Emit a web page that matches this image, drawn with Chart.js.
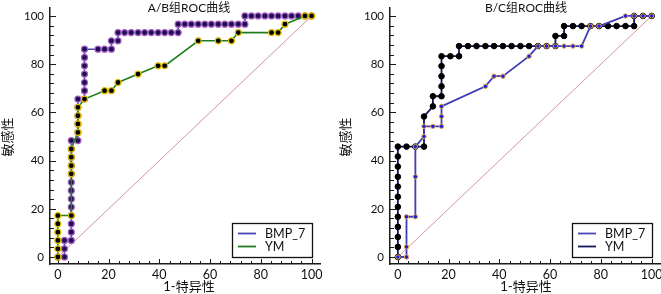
<!DOCTYPE html>
<html>
<head>
<meta charset="utf-8">
<script src="https://cdn.jsdelivr.net/npm/chart.js@4.4.1/dist/chart.umd.min.js"></script>
<style>
html, body { margin: 0; padding: 0; background: #fff; overflow: hidden; width: 661px; height: 294px; }
canvas { position: absolute; top: 0; }
#abChart { left: 0; }
#bcChart { left: 330px; }
</style>
</head>
<body>
<canvas id="abChart" width="330" height="294"></canvas>
<canvas id="bcChart" width="340" height="294"></canvas>
<script>
// axis ticks (percent)
const majorTicks = [0, 20, 40, 60, 80, 100];
const minorTicks = [4, 8, 12, 16, 24, 28, 32, 36, 44, 48, 52, 56, 64, 68, 72, 76, 84, 88, 92, 96];
const diagX = [0, 100];
const diagY = [0, 100];

// A/B group, [1-specificity, sensitivity]
const abBmp7 = [[0,0],[2.6,0],[2.6,3.4],[2.6,6.9],[5.3,6.9],[5.3,10.3],[5.3,13.8],[5.3,17.2],[5.3,20.7],
  [5.3,24.1],[5.3,27.6],[5.3,31.0],[5.3,34.5],[5.3,37.9],[5.3,41.4],[5.3,44.8],[5.3,48.3],[7.9,48.3],
  [7.9,51.7],[7.9,55.2],[7.9,58.6],[7.9,62.1],[7.9,65.5],[10.5,65.5],[10.5,69.0],[10.5,72.4],[10.5,75.9],
  [10.5,79.3],[10.5,82.8],[10.5,86.2],[15.8,86.2],[18.4,86.2],[21.1,86.2],[21.1,89.7],[23.7,89.7],[23.7,93.1],
  [26.3,93.1],[28.9,93.1],[31.6,93.1],[34.2,93.1],[36.8,93.1],[39.5,93.1],[42.1,93.1],[44.7,93.1],[47.4,93.1],
  [47.4,96.6],[50.0,96.6],[52.6,96.6],[55.3,96.6],[57.9,96.6],[60.5,96.6],[63.2,96.6],[65.8,96.6],[68.4,96.6],
  [71.1,96.6],[73.7,96.6],[73.7,100],[76.3,100],[78.9,100],[81.6,100],[84.2,100],[86.8,100],[89.5,100],
  [92.1,100],[94.7,100],[97.4,100],[100,100]];
const abYm = [[0,0],[0,3.4],[0,6.9],[0,10.3],[0,13.8],[0,17.2],[5.3,17.2],[5.3,34.5],[5.3,37.9],[5.3,41.4],
  [5.3,44.8],[7.9,51.7],[7.9,55.2],[7.9,58.6],[7.9,62.1],[10.5,65.5],[18.4,69.0],[21.1,69.0],[23.7,72.4],
  [31.6,75.9],[39.5,79.3],[42.1,79.3],[55.3,89.7],[63.2,89.7],[68.4,89.7],[71.1,93.1],[84.2,93.1],[86.8,93.1],
  [89.5,96.6],[97.4,100],[100,100]];

// B/C group
const bcBmp7 = [[0,0],[3.4,0],[3.4,4.2],[3.4,16.7],[6.9,16.7],[6.9,33.3],[6.9,45.8],[10.3,50.0],[10.3,54.2],
  [13.8,54.2],[17.2,54.2],[17.2,58.3],[17.2,62.5],[34.5,70.8],[37.9,75.0],[41.4,75.0],[51.7,83.3],[55.2,87.5],
  [58.6,87.5],[62.1,87.5],[65.5,87.5],[69.0,87.5],[72.4,87.5],[75.9,95.8],[79.3,95.8],[89.7,100],[93.1,100],
  [96.6,100],[100,100]];
const bcYm = [[0,0],[0,4.2],[0,8.3],[0,12.5],[0,16.7],[0,20.8],[0,25.0],[0,29.2],[0,33.3],[0,37.5],[0,41.7],
  [0,45.8],[3.4,45.8],[6.9,45.8],[10.3,45.8],[10.3,58.3],[13.8,62.5],[13.8,66.7],[17.2,66.7],[17.2,70.8],
  [17.2,75.0],[17.2,79.2],[17.2,83.3],[20.7,83.3],[24.1,83.3],[24.1,87.5],[27.6,87.5],[31.0,87.5],[34.5,87.5],
  [37.9,87.5],[41.4,87.5],[44.8,87.5],[48.3,87.5],[51.7,87.5],[55.2,87.5],[58.6,87.5],[62.1,87.5],[62.1,91.7],
  [65.5,91.7],[65.5,95.8],[69.0,95.8],[72.4,95.8],[75.9,95.8],[79.3,95.8],[82.8,95.8],[86.2,95.8],[89.7,95.8],
  [93.1,95.8],[93.1,100],[96.6,100],[100,100]];

const FONT = 'Lato, "Noto Sans CJK SC", sans-serif';
const toXY = arr => arr.map(p => ({ x: p[0], y: p[1] }));
const diagData = () => diagX.map((v, i) => ({ x: v, y: diagY[i] }));

const rocDecor = {
    id: 'rocDecor',
    beforeDatasetsDraw(chart) {
        const { ctx, chartArea: a, scales: { x, y } } = chart;
        ctx.save();
        ctx.strokeStyle = '#1a1a1a';
        ctx.lineWidth = 1;
        ctx.beginPath();
        for (const v of majorTicks.concat(minorTicks)) {
            const len = majorTicks.includes(v) ? 5 : 3;
            const px = Math.round(x.getPixelForValue(v)) + 0.5;
            ctx.moveTo(px, a.bottom);
            ctx.lineTo(px, a.bottom - len);
            const py = Math.round(y.getPixelForValue(v)) + 0.5;
            ctx.moveTo(a.left, py);
            ctx.lineTo(a.left + len + 1, py);
        }
        ctx.stroke();
        ctx.restore();
    },
    afterDraw(chart, args, o) {
        const { ctx, scales: { x, y } } = chart;
        ctx.save();
        ctx.fillStyle = '#111';
        ctx.textAlign = 'center';
        ctx.textBaseline = 'middle';
        ctx.font = '12px ' + FONT;
        ctx.fillText(o.title, o.titleX, 8);
        ctx.font = '13px ' + FONT;
        ctx.fillText('1-特异性', o.titleX, 287);
        ctx.save();
        ctx.translate(o.yTitleX, 137);
        ctx.rotate(-Math.PI / 2);
        ctx.fillText('敏感性', 0, 0);
        ctx.restore();

        // legend box anchored at (100, 0)
        const right = Math.round(x.getPixelForValue(100));
        const bottom = Math.round(y.getPixelForValue(0));
        const left = right - 80, top = bottom - 34;
        ctx.fillStyle = '#fff';
        ctx.fillRect(left, top, 80, 34);
        ctx.strokeStyle = '#111';
        ctx.lineWidth = 1.3;
        ctx.strokeRect(left + 0.5, top + 0.5, 80, 34);
        ctx.textAlign = 'left';
        ctx.font = '12.5px ' + FONT;
        o.items.forEach((it, i) => {
            const ly = top + 10.5 + i * 13;
            ctx.strokeStyle = it.color;
            ctx.lineWidth = 1.8;
            ctx.beginPath();
            ctx.moveTo(left + 6, ly);
            ctx.lineTo(left + 24, ly);
            ctx.stroke();
            ctx.fillStyle = '#111';
            ctx.fillText(it.label, left + 33, ly + 0.5);
        });
        ctx.restore();
    }
};

function scales(yWidth) {
    return {
        x: {
            type: 'linear', min: -3.1, max: 103.3,
            grid: { display: false, drawTicks: false },
            border: { display: true, color: '#1a1a1a', width: 1.5 },
            ticks: { font: { family: FONT, size: 12.5 }, color: '#111', padding: 3, maxRotation: 0 },
            afterBuildTicks: s => { s.ticks = majorTicks.map(v => ({ value: v })); },
            afterFit: s => { s.height = 30; s.paddingLeft = 0; s.paddingRight = 0; }
        },
        y: {
            type: 'linear', min: -2.9, max: 103.3,
            grid: { display: false, drawTicks: false },
            border: { display: true, color: '#1a1a1a', width: 1.5 },
            ticks: { font: { family: FONT, size: 11.5 }, color: '#111', padding: 6 },
            afterBuildTicks: s => { s.ticks = majorTicks.map(v => ({ value: v })); },
            afterFit: s => { s.width = yWidth; s.paddingTop = 0; s.paddingBottom = 0; }
        }
    };
}

function line(label, data, lineColor, fill, border, r, bw, lw) {
    return {
        label: label, data: toXY(data), showLine: true,
        borderColor: lineColor, borderWidth: lw,
        pointBackgroundColor: fill, pointBorderColor: border,
        pointRadius: r, pointBorderWidth: bw, pointHoverRadius: r
    };
}

function diagSet() {
    return { label: 'ref', data: diagData(), showLine: true, borderColor: '#d49696', borderWidth: 1, pointRadius: 0 };
}

new Chart(document.getElementById('abChart'), {
    type: 'scatter',
    data: {
        datasets: [
            line('YM', abYm, '#1e7d1e', '#000', '#e2c000', 3, 1.2, 1.6),
            line('BMP_7', abBmp7, '#4d45b8', '#1e0e52', '#a45ec2', 3, 1.2, 1.6),
            diagSet()
        ]
    },
    options: {
        responsive: false, animation: false, devicePixelRatio: 1,
        layout: { padding: { left: 0, top: 8, right: 10, bottom: 0 } },
        scales: scales(50),
        plugins: {
            legend: { display: false }, tooltip: { enabled: false },
            rocDecor: {
                title: 'A/B组ROC曲线', titleX: 189, yTitleX: 8,
                items: [{ label: 'BMP_7', color: '#4444b8' }, { label: 'YM', color: '#1e7d1e' }]
            }
        }
    },
    plugins: [rocDecor]
});

new Chart(document.getElementById('bcChart'), {
    type: 'scatter',
    data: {
        datasets: [
            line('BMP_7', bcBmp7, '#3e3eb0', '#1c1ce8', '#e8a838', 2.2, 1, 1.8),
            line('YM', bcYm, '#15155c', '#000', '#000', 2.8, 1, 1.8),
            diagSet()
        ]
    },
    options: {
        responsive: false, animation: false, devicePixelRatio: 1,
        layout: { padding: { left: 0, top: 8, right: 10, bottom: 0 } },
        scales: scales(60),
        plugins: {
            legend: { display: false }, tooltip: { enabled: false },
            rocDecor: {
                title: 'B/C组ROC曲线', titleX: 196, yTitleX: 16,
                items: [{ label: 'BMP_7', color: '#4848b8' }, { label: 'YM', color: '#15155c' }]
            }
        }
    },
    plugins: [rocDecor]
});
</script>
</body>
</html>
